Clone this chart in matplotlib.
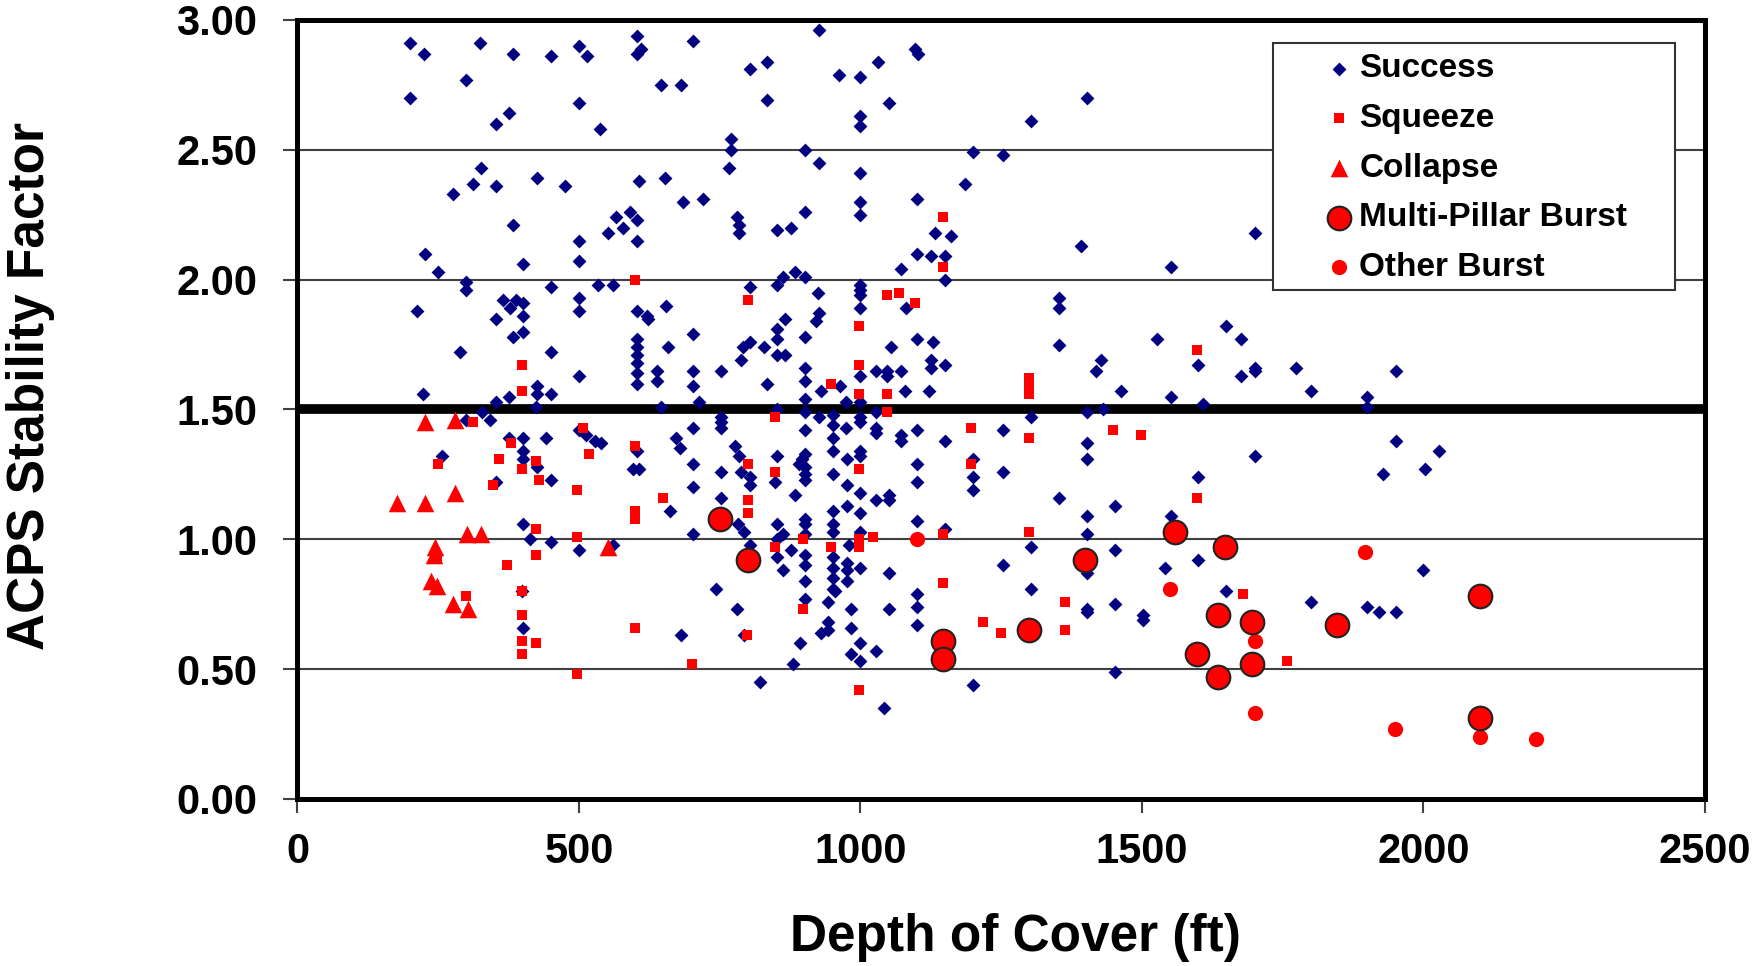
"""ACPS stability factor versus depth of cover, by pillar outcome."""

import matplotlib

matplotlib.use("Agg")
import matplotlib.pyplot as plt
from matplotlib.patches import Rectangle

plt.rcParams["font.family"] = ["Liberation Sans", "DejaVu Sans"]
plt.rcParams["font.weight"] = "bold"

# Data (depth in ft, ACPS stability factor)
success_depth = [
    200, 225, 325, 300, 200, 383, 450, 500, 515, 603, 611, 603, 500, 352, 376, 537,
    326, 312, 352, 276, 426, 476, 607, 383, 227, 249, 401, 500, 500, 552, 565, 578,
    590, 603, 603, 300, 300, 451, 534, 560,
    927, 703, 803, 834, 962, 1000, 1032, 1097, 1102, 646, 682, 834, 1050, 1000, 1000,
    770, 770, 767, 902, 927, 1199, 1253, 1000, 653, 685, 721, 781, 785, 784, 852, 877,
    902, 1000, 1000, 1186, 1100, 1132, 1161, 1100, 1125, 1150, 1072, 1150, 803, 852,
    862, 884, 902, 924, 1000, 1000, 1000,
    1000, 1081, 654, 623, 866, 927, 921, 702, 852, 852, 852, 866, 902, 658, 803, 791,
    788, 828, 638, 638, 702, 702, 753, 834, 902, 902, 930, 963, 1000, 1027, 1048, 1048,
    1072, 1055, 1100, 1128, 1125, 1125, 1150, 1079, 1122, 975, 1000, 646, 714, 852,
    902, 902, 927, 951, 951, 951, 951, 1000, 1000, 1027, 1027, 1027, 975, 753, 753,
    753, 702, 902, 1072, 1072, 1100, 1150, 673, 679, 778, 785, 852, 902, 897, 891,
    902, 902, 902, 976, 1000, 1000, 951, 976, 1000, 1027, 1051, 1051, 976, 1000, 951,
    951, 951, 702, 753, 788, 803, 803, 849, 702, 753, 661, 884, 1100, 1100, 1199, 1199,
    1199, 702, 782, 794, 803, 852, 862, 852, 877, 902, 902, 902, 902, 1000, 980, 1100,
    1150,
    213, 365, 388, 377, 401, 401, 352, 401, 383, 500, 500, 603, 620, 288, 451, 603, 603,
    603, 603, 603, 603, 500, 223, 352, 376, 425, 425, 423, 451, 327, 342, 300, 376,
    401, 442, 500, 513, 528, 540, 256, 401, 401, 425, 451, 353, 603, 596, 606, 401,
    413, 451, 500, 560,
    401, 398, 852, 862, 902, 902, 902, 951, 951, 951, 951, 955, 976, 976, 976, 1000,
    1050, 743, 781, 682, 794, 942, 942, 930, 942, 983, 983, 892, 880, 1000, 983, 1000,
    1027, 1050, 1100, 1100, 1100, 821, 1041, 1199,
    1352, 1352, 1352, 1526, 1650, 1676, 1427, 1419, 1600, 1676, 1700, 1700, 1774, 1800,
    1463, 1551, 1609, 1303, 1402, 1431, 1253, 1402, 1402, 1700, 1253, 1600, 1352, 1452,
    1402, 1402, 1551, 1303, 1452, 1253, 1303, 1402, 1402, 1402, 1452, 1501, 1501, 1541,
    1600, 1650, 1800, 1452, 1402, 1303, 1392, 1551, 1700, 1952, 1899, 1899, 1952, 2027,
    2003, 1928, 2000, 1900, 1921, 1952,
]
success_acps = [
    2.91, 2.87, 2.91, 2.77, 2.70, 2.87, 2.86, 2.90, 2.86, 2.94, 2.89, 2.87, 2.68, 2.60,
    2.64, 2.58, 2.43, 2.37, 2.36, 2.33, 2.39, 2.36, 2.38, 2.21, 2.10, 2.03, 2.06, 2.15,
    2.07, 2.18, 2.24, 2.20, 2.26, 2.23, 2.15, 1.99, 1.96, 1.97, 1.98, 1.98,
    2.96, 2.92, 2.81, 2.84, 2.79, 2.78, 2.84, 2.89, 2.87, 2.75, 2.75, 2.69, 2.68, 2.63,
    2.59, 2.54, 2.50, 2.43, 2.50, 2.45, 2.49, 2.48, 2.41, 2.39, 2.30, 2.31, 2.24, 2.21,
    2.18, 2.19, 2.20, 2.26, 2.30, 2.25, 2.37, 2.31, 2.18, 2.17, 2.10, 2.09, 2.09, 2.04,
    2.00, 1.97, 1.98, 2.01, 2.03, 2.01, 1.95, 1.98, 1.96, 1.94,
    1.89, 1.89, 1.90, 1.85, 1.85, 1.87, 1.84, 1.79, 1.81, 1.77, 1.71, 1.71, 1.78, 1.74,
    1.76, 1.74, 1.69, 1.74, 1.65, 1.61, 1.65, 1.59, 1.65, 1.60, 1.66, 1.61, 1.57, 1.59,
    1.63, 1.65, 1.65, 1.63, 1.65, 1.74, 1.77, 1.76, 1.69, 1.66, 1.67, 1.57, 1.57, 1.53,
    1.53, 1.51, 1.53, 1.50, 1.54, 1.49, 1.47, 1.48, 1.44, 1.39, 1.34, 1.47, 1.45, 1.49,
    1.43, 1.41, 1.43, 1.47, 1.45, 1.43, 1.43, 1.42, 1.40, 1.38, 1.42, 1.38, 1.39, 1.35,
    1.36, 1.32, 1.32, 1.33, 1.31, 1.29, 1.28, 1.25, 1.23, 1.31, 1.34, 1.32, 1.25, 1.21,
    1.18, 1.15, 1.17, 1.15, 1.13, 1.10, 1.11, 1.06, 1.03, 1.29, 1.26, 1.26, 1.24, 1.21,
    1.22, 1.20, 1.16, 1.11, 1.17, 1.29, 1.22, 1.31, 1.24, 1.19, 1.02, 1.06, 1.03, 0.98,
    1.06, 1.02, 1.00, 0.96, 1.08, 1.06, 1.02, 0.94, 1.03, 0.98, 1.07, 1.04,
    1.88, 1.92, 1.92, 1.89, 1.91, 1.86, 1.85, 1.80, 1.78, 1.93, 1.88, 1.88, 1.86, 1.72,
    1.72, 1.77, 1.74, 1.71, 1.68, 1.64, 1.60, 1.63, 1.56, 1.53, 1.55, 1.59, 1.56, 1.51,
    1.56, 1.49, 1.46, 1.46, 1.39, 1.39, 1.39, 1.42, 1.40, 1.38, 1.37, 1.32, 1.34, 1.31,
    1.28, 1.23, 1.22, 1.34, 1.27, 1.27, 1.06, 1.00, 0.99, 0.96, 0.98,
    0.66, 0.80, 0.93, 0.88, 0.90, 0.84, 0.77, 0.93, 0.89, 0.85, 0.81, 0.80, 0.91, 0.88,
    0.84, 0.89, 0.87, 0.81, 0.73, 0.63, 0.63, 0.76, 0.68, 0.64, 0.65, 0.73, 0.66, 0.60,
    0.52, 0.60, 0.56, 0.53, 0.57, 0.73, 0.79, 0.74, 0.67, 0.45, 0.35, 0.44,
    1.93, 1.89, 1.75, 1.77, 1.82, 1.77, 1.69, 1.65, 1.67, 1.63, 1.66, 1.65, 1.66, 1.57,
    1.57, 1.55, 1.52, 1.47, 1.49, 1.50, 1.42, 1.37, 1.31, 1.32, 1.26, 1.24, 1.16, 1.13,
    1.09, 1.02, 1.09, 0.97, 0.96, 0.90, 0.81, 0.87, 0.73, 0.72, 0.75, 0.71, 0.69, 0.89,
    0.92, 0.80, 0.76, 0.49, 2.70, 2.61, 2.13, 2.05, 2.18, 1.65, 1.55, 1.51, 1.38, 1.34,
    1.27, 1.25, 0.88, 0.74, 0.72, 0.72,
]

squeeze_depth = [
    600, 1146, 1146, 800, 1047, 1068, 1097, 997, 997, 948, 997, 1047, 1047, 849, 1196,
    800, 849, 997, 1196, 649, 800, 800, 898, 849, 948, 997, 997, 1022, 1146,
    398, 398, 312, 380, 507, 518, 358, 249, 398, 423, 429, 348, 497, 600, 600, 600,
    423, 497, 423, 372, 248, 299, 398, 398, 398, 398, 423, 497, 600,
    1146, 898, 700, 997, 1218, 799,
    1300, 1300, 1300, 1598, 1300, 1449, 1498, 1598, 1300, 1364, 1364, 1250, 1680, 1757,
]
squeeze_acps = [
    2.00, 2.24, 2.05, 1.92, 1.94, 1.95, 1.91, 1.82, 1.67, 1.60, 1.56, 1.56, 1.49, 1.47,
    1.43, 1.29, 1.26, 1.27, 1.29, 1.16, 1.15, 1.10, 1.00, 0.97, 0.97, 1.00, 0.97, 1.01,
    1.02,
    1.67, 1.57, 1.45, 1.37, 1.43, 1.33, 1.31, 1.29, 1.27, 1.30, 1.23, 1.21, 1.19, 1.36,
    1.11, 1.08, 1.04, 1.01, 0.94, 0.90, 0.93, 0.78, 0.80, 0.71, 0.61, 0.56, 0.60, 0.48,
    0.66,
    0.83, 0.73, 0.52, 0.42, 0.68, 0.63,
    1.62, 1.59, 1.56, 1.73, 1.39, 1.42, 1.40, 1.16, 1.03, 0.76, 0.65, 0.64, 0.79, 0.53,
]

collapse_depth = [226, 280, 177, 226, 280, 301, 326, 552, 245, 243, 237, 247, 277, 303]
collapse_acps = [1.45, 1.46, 1.14, 1.14, 1.18, 1.02, 1.02, 0.97, 0.97, 0.94, 0.84,
                 0.82, 0.75, 0.73]

multi_depth = [750, 800, 1146, 1146, 1300, 1399, 1558, 1647, 1635, 1696, 1597, 1635,
               1696, 1846, 2100, 2100]
multi_acps = [1.08, 0.92, 0.61, 0.54, 0.65, 0.92, 1.03, 0.97, 0.71, 0.68, 0.56, 0.47,
              0.52, 0.67, 0.78, 0.31]

other_depth = [1100, 1550, 1700, 1700, 1897, 1950, 2100, 2199]
other_acps = [1.00, 0.81, 0.61, 0.33, 0.95, 0.27, 0.24, 0.23]

x_ticks = [0, 500, 1000, 1500, 2000, 2500]
y_ticks = [0.0, 0.5, 1.0, 1.5, 2.0, 2.5, 3.0]

NAVY = "#000080"
RED = "#ff0000"

fig = plt.figure(figsize=(17.59, 9.66), dpi=100)
ax = fig.add_axes([0.1691, 0.1729, 0.8002, 0.8064])

# Gridlines plus the heavy 1.5 design line
ax.set_axisbelow(True)
ax.yaxis.grid(True, color="#404040", linewidth=1.5)
ax.axhline(1.5, color="black", linewidth=7, zorder=1.5)

h_success = ax.scatter(success_depth, success_acps, marker="D", s=50, color=NAVY,
                       linewidths=0, zorder=3, label="Success")
h_squeeze = ax.scatter(squeeze_depth, squeeze_acps, marker="s", s=48, color=RED,
                       linewidths=0, zorder=4, label="Squeeze")
h_collapse = ax.scatter(collapse_depth, collapse_acps, marker="^", s=160, color=RED,
                        linewidths=0, zorder=4, label="Collapse")
h_other = ax.scatter(other_depth, other_acps, marker="o", s=120, color=RED,
                     linewidths=0, zorder=5, label="Other Burst")
h_multi = ax.scatter(multi_depth, multi_acps, marker="o", s=290, color=RED,
                     edgecolors="#222222", linewidths=1.5, zorder=6,
                     label="Multi-Pillar Burst")

ax.set_xlim(0, 2500)
ax.set_ylim(0, 3)
ax.set_xticks(x_ticks)
ax.set_yticks(y_ticks)
ax.set_yticklabels([f"{v:.2f}" for v in y_ticks])

for spine in ax.spines.values():
    spine.set_linewidth(3.6)
    spine.set_color("black")

ax.tick_params(axis="both", direction="out", length=10, width=1.5, color="#404040",
               labelsize=30)
ax.tick_params(axis="x", pad=14)
ax.tick_params(axis="y", pad=19)

ax.set_xlabel("Depth of Cover (ft)", fontsize=37, fontweight="bold")
ax.set_ylabel("ACPS Stability Factor", fontsize=37, fontweight="bold")
ax.xaxis.label.set_va("center")
ax.yaxis.label.set_va("center")
ax.xaxis.set_label_coords(0.510, -0.178)
ax.yaxis.set_label_coords(-0.190, 0.530)

# Legend: frame drawn separately so its padding matches the original
frame = Rectangle((0.693, 0.653), 0.286, 0.317, transform=ax.transAxes,
                  facecolor="white", edgecolor="#333333", linewidth=1.5, zorder=10)
ax.add_patch(frame)
legend = ax.legend(
    [h_success, h_squeeze, h_collapse, h_multi, h_other],
    ["Success", "Squeeze", "Collapse", "Multi-Pillar Burst", "Other Burst"],
    loc="upper left",
    bbox_to_anchor=(0.732, 0.957),
    frameon=False,
    borderpad=0,
    borderaxespad=0,
    handlelength=0.7,
    handletextpad=0.25,
    labelspacing=0.56,
    prop={"size": 24, "weight": "bold"},
)
legend.set_zorder(11)

fig.savefig("out.png", dpi=100)
